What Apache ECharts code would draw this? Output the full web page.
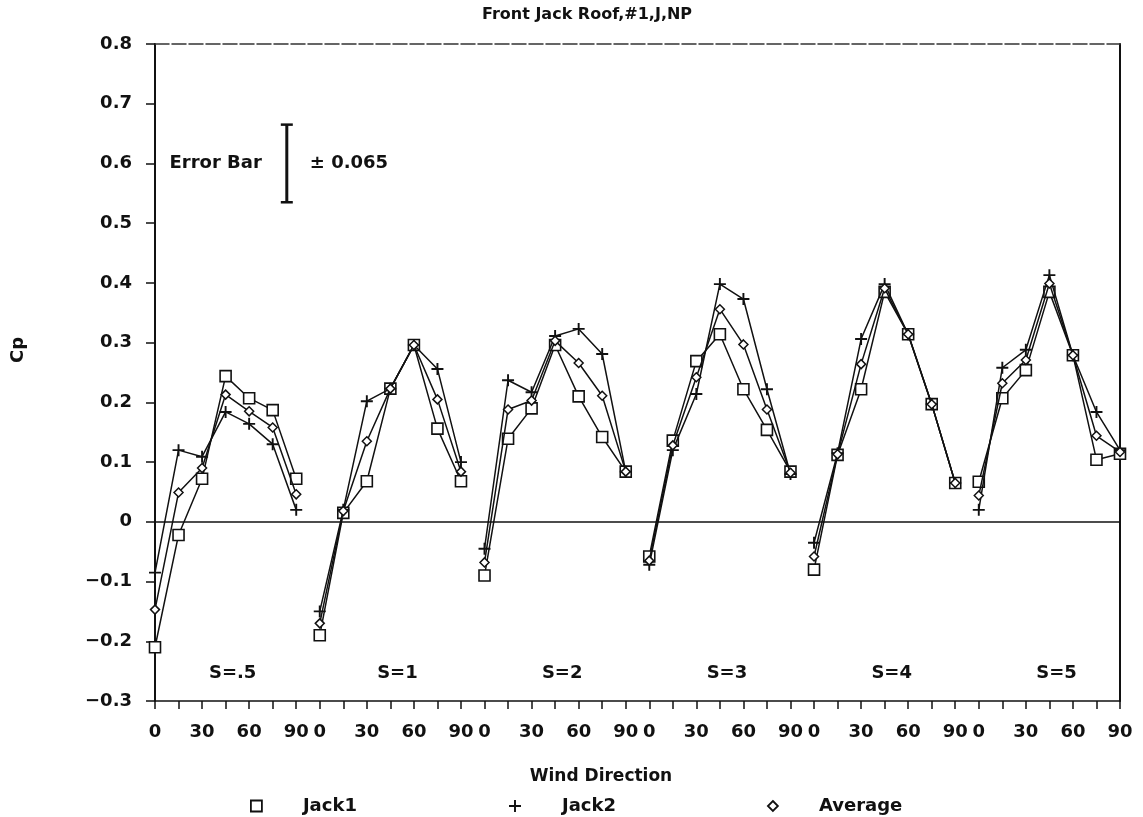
<!DOCTYPE html>
<html>
<head>
<meta charset="utf-8">
<script src="https://cdn.jsdelivr.net/npm/echarts@6/dist/echarts.min.js"></script>
<style>
  html, body { margin: 0; padding: 0; background: #fff; }
  #chart { width: 1143px; height: 817px; }
</style>
</head>
<body>
<div id="chart"></div>
<script>
// ---- data ----
const TITLE = 'Front Jack Roof,#1,J,NP';
const ANGLES = [0, 15, 30, 45, 60, 75, 90];
const S_LABELS = ['S=.5', 'S=1', 'S=2', 'S=3', 'S=4', 'S=5'];
const Y_TICKS = [-0.3, -0.2, -0.1, 0, 0.1, 0.2, 0.3, 0.4, 0.5, 0.6, 0.7, 0.8];

const JACK1 = [
  [-0.210, -0.022, 0.072, 0.244, 0.207, 0.187, 0.072],
  [-0.190, 0.015, 0.068, 0.223, 0.296, 0.156, 0.068],
  [-0.090, 0.139, 0.190, 0.296, 0.210, 0.142, 0.084],
  [-0.058, 0.136, 0.269, 0.314, 0.222, 0.154, 0.084],
  [-0.080, 0.112, 0.222, 0.385, 0.314, 0.197, 0.065],
  [0.067, 0.207, 0.254, 0.385, 0.279, 0.104, 0.114]
];
const JACK2 = [
  [-0.085, 0.120, 0.109, 0.184, 0.164, 0.130, 0.020],
  [-0.150, 0.020, 0.202, 0.223, 0.296, 0.256, 0.100],
  [-0.045, 0.237, 0.217, 0.311, 0.323, 0.281, 0.084],
  [-0.072, 0.120, 0.214, 0.398, 0.373, 0.222, 0.080],
  [-0.035, 0.115, 0.306, 0.398, 0.314, 0.197, 0.065],
  [0.020, 0.258, 0.288, 0.413, 0.279, 0.184, 0.120]
];
const AVERAGE = [
  [-0.147, 0.049, 0.090, 0.213, 0.185, 0.158, 0.046],
  [-0.170, 0.018, 0.135, 0.223, 0.296, 0.205, 0.084],
  [-0.068, 0.188, 0.203, 0.303, 0.266, 0.211, 0.084],
  [-0.065, 0.128, 0.242, 0.356, 0.297, 0.188, 0.082],
  [-0.058, 0.113, 0.264, 0.391, 0.314, 0.197, 0.065],
  [0.044, 0.232, 0.271, 0.399, 0.279, 0.144, 0.117]
];
const ERROR_CENTER = 0.6;
const ERROR_HALF = 0.065;

// ---- layout / style ----
const FONT = 'DejaVu Sans';
const INK = '#111';
const N_PER_GROUP = ANGLES.length;
const N_POS = S_LABELS.length * N_PER_GROUP;
const S_LABEL_OFFSET = 3.3;   // label position within group (in tick steps)
const S_LABEL_Y = -0.254;
const ERROR_X = 5.6;
const PLUS = 'path://M4.2,0H5.8V4.2H10V5.8H5.8V10H4.2V5.8H0V4.2H4.2Z';

function fmtY(v) {
  if (Math.abs(v) < 1e-9) return '0';
  return v < 0 ? '\u2212' + Math.abs(v).toFixed(1) : v.toFixed(1);
}

const SERIES_DEF = [
  { name: 'Jack1', data: JACK1, symbol: 'rect', size: 11,
    itemStyle: { color: '#fff', borderColor: INK, borderWidth: 1.6 }, z: 3 },
  { name: 'Jack2', data: JACK2, symbol: PLUS, size: 12,
    itemStyle: { color: INK, borderWidth: 0 }, z: 4 },
  { name: 'Average', data: AVERAGE, symbol: 'diamond', size: 9,
    itemStyle: { color: '#fff', borderColor: INK, borderWidth: 1.5 }, z: 5 }
];

const series = [];
SERIES_DEF.forEach(def => {
  def.data.forEach((vals, g) => {
    series.push({
      name: def.name,
      type: 'line',
      xAxisIndex: 0, yAxisIndex: 0,
      data: vals.map((v, i) => [g * N_PER_GROUP + i, v]),
      symbol: def.symbol,
      symbolSize: def.size,
      showAllSymbol: true,
      itemStyle: def.itemStyle,
      lineStyle: { color: INK, width: 1.5 },
      z: def.z,
      animation: false
    });
  });
});

// zero line
series.push({
  type: 'line', data: [], xAxisIndex: 0, yAxisIndex: 0, silent: true,
  markLine: {
    silent: true, symbol: ['none', 'none'], label: { show: false },
    lineStyle: { color: INK, width: 1.5, type: 'solid' },
    data: [{ yAxis: 0 }]
  }
});

// S labels
series.push({
  type: 'custom', xAxisIndex: 0, yAxisIndex: 0, silent: true,
  data: S_LABELS.map((s, g) => [g * N_PER_GROUP + S_LABEL_OFFSET, S_LABEL_Y]),
  renderItem: function (params, api) {
    const p = api.coord([api.value(0), api.value(1)]);
    return {
      type: 'text', x: p[0], y: p[1],
      style: { text: S_LABELS[params.dataIndex], align: 'center', verticalAlign: 'middle',
               fontFamily: FONT, fontWeight: 'bold', fontSize: 18, fill: INK }
    };
  },
  animation: false
});

// error bar annotation
series.push({
  type: 'custom', xAxisIndex: 0, yAxisIndex: 0, silent: true,
  data: [[ERROR_X, ERROR_CENTER]],
  renderItem: function (params, api) {
    const x = api.value(0), c = api.value(1);
    const top = api.coord([x, c + ERROR_HALF]);
    const bot = api.coord([x, c - ERROR_HALF]);
    const mid = (top[1] + bot[1]) / 2;
    const ts = { fontFamily: FONT, fontWeight: 'bold', fontSize: 18, fill: INK, verticalAlign: 'middle' };
    return {
      type: 'group',
      children: [
        { type: 'line', shape: { x1: top[0], y1: top[1], x2: bot[0], y2: bot[1] }, style: { stroke: INK, lineWidth: 3 } },
        { type: 'line', shape: { x1: top[0] - 6, y1: top[1], x2: top[0] + 6, y2: top[1] }, style: { stroke: INK, lineWidth: 2.5 } },
        { type: 'line', shape: { x1: bot[0] - 6, y1: bot[1], x2: bot[0] + 6, y2: bot[1] }, style: { stroke: INK, lineWidth: 2.5 } },
        { type: 'text', x: top[0] - 25, y: mid, style: Object.assign({ text: 'Error Bar', align: 'right' }, ts) },
        { type: 'text', x: top[0] + 23, y: mid, style: Object.assign({ text: '\u00b1 ' + ERROR_HALF.toFixed(3), align: 'left' }, ts) }
      ]
    };
  },
  animation: false
});

const legendText = { fontFamily: FONT, fontWeight: 'bold', fontSize: 18, color: INK, padding: [0, 0, 0, 36] };
const chart = echarts.init(document.getElementById('chart'), null, { renderer: 'canvas' });
chart.setOption({
  animation: false,
  backgroundColor: '#fff',
  title: {
    text: TITLE, left: 477, top: 2,
    textStyle: { fontFamily: FONT, fontWeight: 'bold', fontSize: 16, color: INK }
  },
  grid: { left: 155, right: 23, top: 44, bottom: 116, containLabel: false },
  legend: [
    { data: [{ name: 'Jack1', icon: 'rect', itemStyle: { color: '#fff', borderColor: INK, borderWidth: 1.8 } }],
      left: 245, top: 792, itemWidth: 11, itemHeight: 11, textStyle: legendText, selectedMode: false },
    { data: [{ name: 'Jack2', icon: PLUS, itemStyle: { color: INK, borderWidth: 0 } }],
      left: 504, top: 792, itemWidth: 12, itemHeight: 12, textStyle: legendText, selectedMode: false },
    { data: [{ name: 'Average', icon: 'diamond', itemStyle: { color: '#fff', borderColor: INK, borderWidth: 1.8 } }],
      left: 762, top: 792, itemWidth: 10, itemHeight: 10, textStyle: legendText, selectedMode: false }
  ],
  xAxis: [
    {
      type: 'value', min: 0, max: N_POS - 1, interval: 1,
      position: 'bottom',
      axisLine: { show: true, onZero: false, lineStyle: { color: INK, width: 1.5 } },
      axisTick: { show: true, inside: false, length: 8, lineStyle: { color: INK, width: 1.5 } },
      axisLabel: {
        margin: 22, fontFamily: FONT, fontWeight: 'bold', fontSize: 18, color: INK,
        formatter: v => { const a = ANGLES[Math.round(v) % N_PER_GROUP]; return a % 30 === 0 ? String(a) : ''; }
      },
      splitLine: { show: false }
    },
    {
      type: 'value', min: 0, max: N_POS - 1, position: 'top',
      axisLine: { show: true, onZero: false, lineStyle: { color: '#333', width: 1.5, type: [14, 3] } },
      axisTick: { show: false }, axisLabel: { show: false }, splitLine: { show: false }
    }
  ],
  yAxis: [
    {
      type: 'value', min: Y_TICKS[0], max: Y_TICKS[Y_TICKS.length - 1], interval: 0.1,
      position: 'left',
      axisLine: { show: true, onZero: false, lineStyle: { color: INK, width: 2 } },
      axisTick: { show: true, inside: false, length: 9, lineStyle: { color: INK, width: 1.5 } },
      axisLabel: { margin: 23, fontFamily: FONT, fontWeight: 'bold', fontSize: 18, color: INK, formatter: fmtY },
      splitLine: { show: false }
    },
    {
      type: 'value', min: Y_TICKS[0], max: Y_TICKS[Y_TICKS.length - 1], position: 'right',
      axisLine: { show: true, onZero: false, lineStyle: { color: INK, width: 2 } },
      axisTick: { show: false }, axisLabel: { show: false }, splitLine: { show: false }
    }
  ],
  graphic: [
    { type: 'text', x: 18, y: 350, rotation: Math.PI / 2,
      style: { text: 'Cp', align: 'center', verticalAlign: 'middle', fontFamily: FONT, fontWeight: 'bold', fontSize: 18, fill: INK } },
    { type: 'text', x: 601, y: 777,
      style: { text: 'Wind Direction', align: 'center', verticalAlign: 'middle', fontFamily: FONT, fontWeight: 'bold', fontSize: 17, fill: INK } }
  ],
  series: series
});
</script>
</body>
</html>
